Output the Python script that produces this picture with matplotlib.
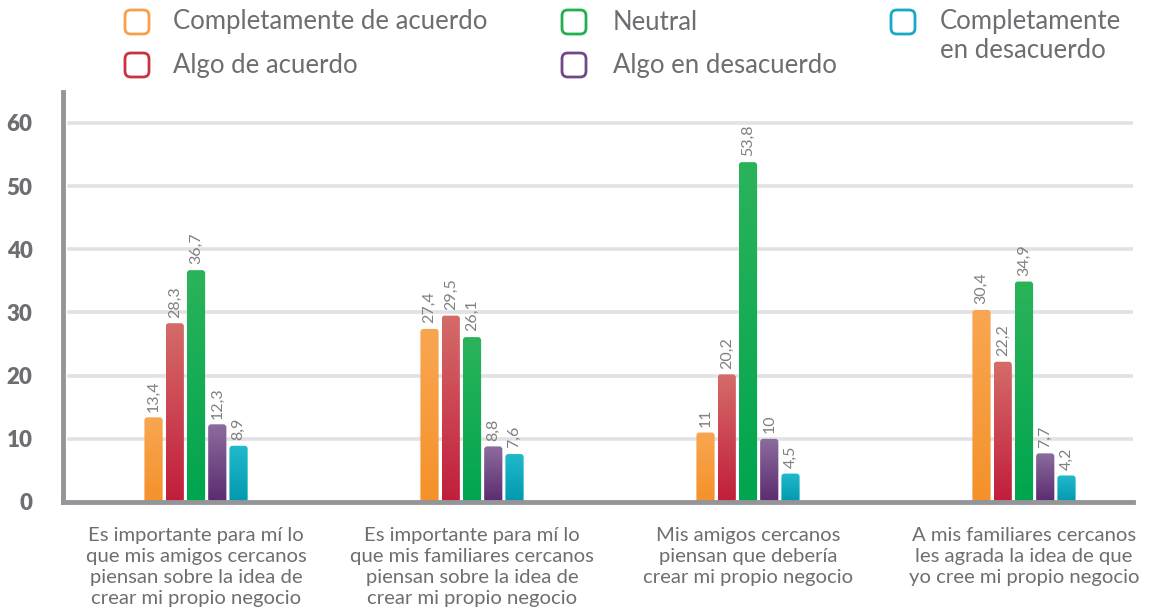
import numpy as np
import matplotlib.pyplot as plt
from matplotlib.patches import FancyBboxPatch
from matplotlib.colors import LinearSegmentedColormap

plt.rcParams['font.family'] = ['Lato', 'DejaVu Sans']

categories = [
    "Es importante para mí lo\nque mis amigos cercanos\npiensan sobre la idea de\ncrear mi propio negocio",
    "Es importante para mí lo\nque mis familiares cercanos\npiensan sobre la idea de\ncrear mi propio negocio",
    "Mis amigos cercanos\npiensan que debería\ncrear mi propio negocio",
    "A mis familiares cercanos\nles agrada la idea de que\nyo cree mi propio negocio",
]
series = ["Completamente de acuerdo", "Algo de acuerdo", "Neutral",
          "Algo en desacuerdo", "Completamente\nen desacuerdo"]
completamente_acuerdo = [13.4, 27.4, 11, 30.4]
algo_acuerdo = [28.3, 29.5, 20.2, 22.2]
neutral = [36.7, 26.1, 53.8, 34.9]
algo_desacuerdo = [12.3, 8.8, 10, 7.7]
completamente_desacuerdo = [8.9, 7.6, 4.5, 4.2]
yticks = [0, 10, 20, 30, 40, 50, 60]

values = [completamente_acuerdo, algo_acuerdo, neutral,
          algo_desacuerdo, completamente_desacuerdo]
# (top, bottom) gradient colours per series
grads = [("#F9A652", "#F4912A"), ("#D56C69", "#C11D3B"), ("#2BB35A", "#00A54F"),
         ("#8C6C9E", "#5B2B70"), ("#20BACD", "#0398AD")]
edge_cols = ["#F8A048", "#C73440", "#22B04F", "#704889", "#17AAC4"]
grey_text = "#6d6e71"

fig = plt.figure(figsize=(11.51, 6.14), dpi=100)
W, H = 1151, 614
ax = fig.add_axes([63 / W, 1 - 502 / H, (1133 - 63) / W, (502 - 92) / H])

x = np.arange(len(categories))
width = 0.066
step = 0.077
ymax = 64.9

grad = np.linspace(0, 1, 256).reshape(-1, 1)
for i, vals in enumerate(values):
    cmap = LinearSegmentedColormap.from_list("g%d" % i, [grads[i][1], grads[i][0]])
    pos = x + (i - 2) * step
    bars = ax.bar(pos, vals, width, color=grads[i][1], zorder=3)
    for b, v in zip(bars, vals):
        b.set_visible(False)
        bx, bw = b.get_x(), b.get_width()
        patch = FancyBboxPatch((bx, 0), bw, v,
                               boxstyle="round,pad=0,rounding_size=0.011",
                               mutation_aspect=276 / 6.32,
                               fc="none", ec="none", zorder=3)
        ax.add_patch(patch)
        im = ax.imshow(grad, cmap=cmap, origin="lower", aspect="auto",
                       extent=(bx, bx + bw, 0, v), zorder=3)
        im.set_clip_path(patch)
        ax.text(b.get_x() + bw / 2, v + 0.9, f"{v:g}".replace(".", ","),
                rotation=90, ha="center", va="bottom", fontsize=11.5,
                color="#808080", zorder=4)

ax.set_xlim(-0.482, 3.395)
ax.set_ylim(0, ymax)

for t in yticks[1:]:
    ax.axhline(t, xmin=0.006, color="#e2e2e4", lw=2.6, zorder=1)

ax.set_yticks(yticks)
ax.set_yticklabels([str(t) for t in yticks], fontsize=16, fontweight="heavy",
                   color=grey_text)
ax.tick_params(axis="y", length=0, pad=22)
ax.set_xticks(x)
ax.set_xticklabels(categories, fontsize=14.6, color=grey_text, linespacing=1.28)
ax.tick_params(axis="x", length=0, pad=18)

for s in ["top", "right"]:
    ax.spines[s].set_visible(False)
for s in ["left", "bottom"]:
    ax.spines[s].set_color("#939598")
    ax.spines[s].set_linewidth(3.5)
    ax.spines[s].set_zorder(5)

# legend drawn by hand
leg_pos = [(137, 22, 173), (137, 65, 173), (574, 22, 613), (574, 65, 613), (903, 22, 940)]
for i, (sx, sy, tx) in enumerate(leg_pos):
    sq = FancyBboxPatch(((sx - 12) / W, 1 - (sy + 12) / H), 24 / W, 24 / H,
                        boxstyle="round,pad=0,rounding_size=0.005",
                        mutation_aspect=W / H,
                        transform=fig.transFigure, fc="white",
                        ec=edge_cols[i], lw=2)
    fig.add_artist(sq)
    va = "center" if "\n" not in series[i] else "top"
    ty = sy if va == "center" else sy - 13
    fig.text(tx / W, 1 - ty / H, series[i], fontsize=18.5, color=grey_text,
             va=va, ha="left", linespacing=1.22)

fig.savefig("out.png", dpi=100)
